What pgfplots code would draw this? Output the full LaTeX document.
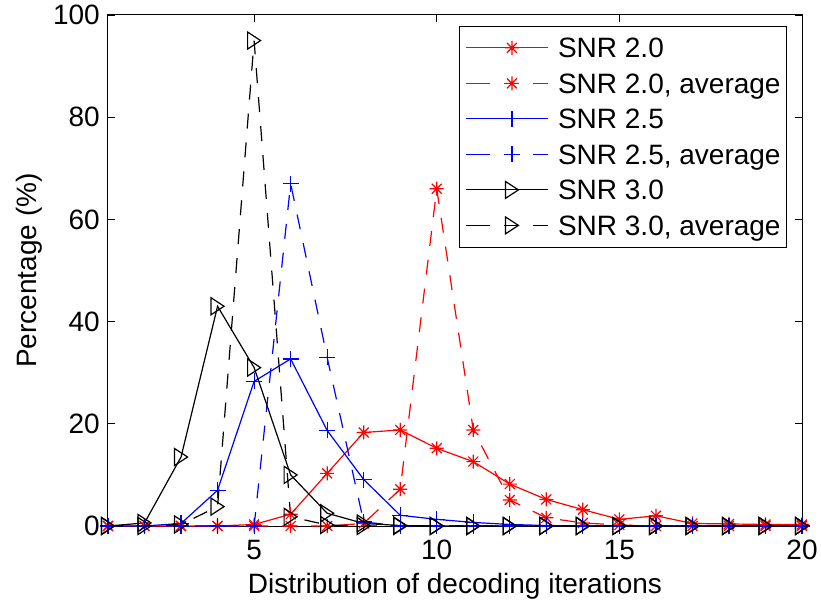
\documentclass[border=0pt]{standalone}
\usepackage{fontspec}
\setmainfont{Liberation Sans}
\usepackage{pgfplots}
\pgfplotsset{compat=1.18}

\pgfdeclareplotmark{mstar}{%
  \pgfpathmoveto{\pgfqpoint{-\pgfplotmarksize}{0pt}}\pgfpathlineto{\pgfqpoint{\pgfplotmarksize}{0pt}}%
  \pgfpathmoveto{\pgfqpoint{0pt}{-\pgfplotmarksize}}\pgfpathlineto{\pgfqpoint{0pt}{\pgfplotmarksize}}%
  \pgfpathmoveto{\pgfqpoint{-.707\pgfplotmarksize}{-.707\pgfplotmarksize}}\pgfpathlineto{\pgfqpoint{.707\pgfplotmarksize}{.707\pgfplotmarksize}}%
  \pgfpathmoveto{\pgfqpoint{-.707\pgfplotmarksize}{.707\pgfplotmarksize}}\pgfpathlineto{\pgfqpoint{.707\pgfplotmarksize}{-.707\pgfplotmarksize}}%
  \pgfusepathqstroke}
\pgfdeclareplotmark{mplus}{%
  \pgfpathmoveto{\pgfqpoint{-\pgfplotmarksize}{0pt}}\pgfpathlineto{\pgfqpoint{\pgfplotmarksize}{0pt}}%
  \pgfpathmoveto{\pgfqpoint{0pt}{-\pgfplotmarksize}}\pgfpathlineto{\pgfqpoint{0pt}{\pgfplotmarksize}}%
  \pgfusepathqstroke}
\pgfdeclareplotmark{rtri}{%
  \pgfpathmoveto{\pgfqpoint{-.65\pgfplotmarksize}{.85\pgfplotmarksize}}%
  \pgfpathlineto{\pgfqpoint{.65\pgfplotmarksize}{0pt}}%
  \pgfpathlineto{\pgfqpoint{-.65\pgfplotmarksize}{-.85\pgfplotmarksize}}%
  \pgfpathclose\pgfusepathqstroke}

\begin{document}
\begin{tikzpicture}
\begin{axis}[name=ax,
  scale only axis, width=694pt, height=511pt,
  xmin=1, xmax=20, ymin=0, ymax=100,
  xtick={5,10,15,20}, ytick={0,20,...,100},
  tick align=inside, major tick length=7pt,
  axis line style={line width=1pt},
  every tick/.style={black, line width=0.8pt},
  clip=false,
  font=\fontsize{28}{34}\selectfont,
  /pgf/number format/assume math mode=true,
  xlabel={Distribution of decoding iterations},
  ylabel={Percentage (\%)},
  xlabel style={at={(axis description cs:0.5,-0.092)}, anchor=north, inner sep=0pt},
  ylabel style={at={(axis description cs:-0.094,0.5)}, anchor=south, inner sep=0pt},
  xticklabel style={inner sep=0pt, yshift=-14pt},
  yticklabel style={inner sep=0pt, xshift=-8pt},
  every axis plot/.append style={line width=1.2pt},
  legend image code/.code={%
    \path (-9pt,0pt) -- (0pt,0pt);
    \draw[mark repeat=2, mark phase=2, #1] plot coordinates {(0pt,0pt) (36.5pt,0pt) (73pt,0pt)};},
  legend style={at={(axis description cs:1,1)}, xshift=-15pt, yshift=-11pt,
    anchor=north east, draw=black, line width=0.8pt, fill=white,
    inner xsep=6pt, inner ysep=8.5pt, row sep=9.5pt, column sep=9pt,
    nodes={inner sep=0pt, text height=23pt, text depth=3pt},
    cells={anchor=west}, font=\fontsize{28}{34}\selectfont},
]
\addplot[color=red, mark=mstar, mark size=7pt, mark options={draw=red, solid}] coordinates {
(1,0) (2,0) (3,0) (4,0) (5,0.3) (6,2.3) (7,10.3) (8,18.3) (9,18.8) (10,15.2)
(11,12.6) (12,8.2) (13,5.2) (14,3.2) (15,1.3) (16,2.0) (17,0.5) (18,0.4) (19,0.3) (20,0.3)};
\addlegendentry{SNR 2.0}
\addplot[color=red, dash pattern=on 15pt off 14pt, mark=mstar, mark size=7pt, mark options={draw=red, solid}] coordinates {
(1,0) (2,0) (3,0) (4,0) (5,0) (6,0) (7,0) (8,0.5) (9,7.2) (10,66)
(11,18.8) (12,5.1) (13,1.6) (14,0.6) (15,0.2) (16,0) (17,0) (18,0) (19,0) (20,0)};
\addlegendentry{SNR 2.0, average}
\addplot[color=blue, mark=mplus, mark size=8pt, mark options={draw=blue, solid}] coordinates {
(1,0) (2,0) (3,0.5) (4,7) (5,28.3) (6,32.7) (7,18.7) (8,9.1) (9,2.1) (10,1.3)
(11,0.7) (12,0.3) (13,0.1) (14,0) (15,0) (16,0) (17,0) (18,0) (19,0) (20,0)};
\addlegendentry{SNR 2.5}
\addplot[color=blue, dash pattern=on 15pt off 14pt, mark=mplus, mark size=8pt, mark options={draw=blue, solid}] coordinates {
(1,0) (2,0) (3,0) (4,0) (5,0) (6,67) (7,33) (8,0.8) (9,0) (10,0)
(11,0) (12,0) (13,0) (14,0) (15,0) (16,0) (17,0) (18,0) (19,0) (20,0)};
\addlegendentry{SNR 2.5, average}
\addplot[color=black, mark=rtri, mark size=10pt, mark options={draw=black, solid}] coordinates {
(1,0) (2,0.6) (3,13.5) (4,43) (5,31) (6,10) (7,2.5) (8,0.5) (9,0.1) (10,0)
(11,0) (12,0) (13,0) (14,0) (15,0) (16,0) (17,0) (18,0) (19,0) (20,0)};
\addlegendentry{SNR 3.0}
\addplot[color=black, dash pattern=on 15pt off 14pt, mark=rtri, mark size=10pt, mark options={draw=black, solid}] coordinates {
(1,0) (2,0) (3,0.3) (4,3.8) (5,95) (6,1.8) (7,0.2) (8,0) (9,0) (10,0)
(11,0) (12,0) (13,0) (14,0) (15,0) (16,0) (17,0) (18,0) (19,0) (20,0)};
\addlegendentry{SNR 3.0, average}
\end{axis}
\pgfresetboundingbox
\path ([shift={(-108pt,-74pt)}]ax.south west) rectangle ([shift={(19pt,15pt)}]ax.north east);
\end{tikzpicture}
\end{document}
